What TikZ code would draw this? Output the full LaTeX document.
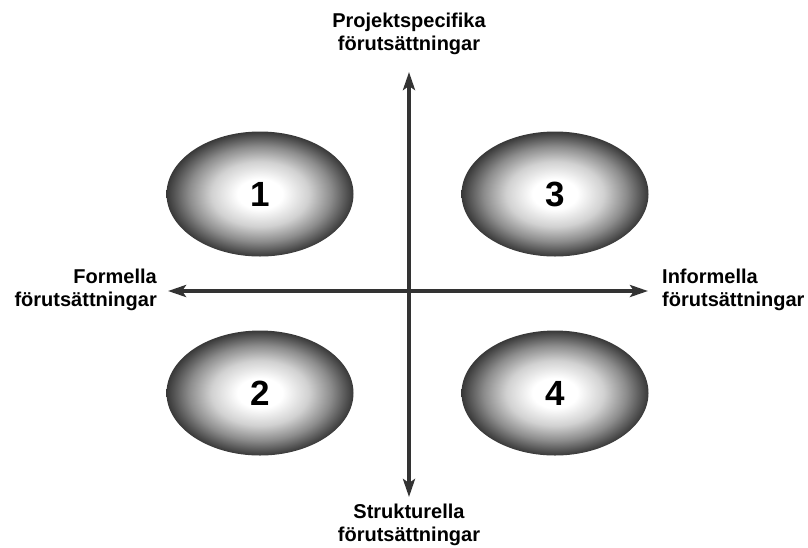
\documentclass[tikz,border=0pt]{standalone}
\usepackage{fontspec}
\setmainfont{Liberation Sans}
\usetikzlibrary{arrows.meta,shapes.geometric}
\pgfdeclareradialshading{blobshade}{\pgfpoint{0bp}{0bp}}{color(0bp)=(white);color(6bp)=(white);color(13bp)=(black!18);color(19bp)=(black!45);color(25bp)=(black!78);color(50bp)=(black!78)}
\definecolor{axiscol}{HTML}{333333}
\begin{document}
\begin{tikzpicture}[x=1pt,y=-1pt,
  blob/.style={ellipse,shading=blobshade,draw=none,minimum width=187pt,minimum height=125pt,inner sep=0pt,font=\fontsize{35}{40}\selectfont\bfseries},
  axis/.style={draw=axiscol,line width=3.5pt,{Stealth[length=18pt,width=12pt,inset=4pt]}-{Stealth[length=18pt,width=12pt,inset=4pt]}},
  lbl/.style={inner sep=0pt,font=\fontsize{20}{23}\selectfont\bfseries}]
\useasboundingbox (0,0) rectangle (808,547);
\node[blob] (b1) at (260,194) {1};
\node[blob] (b3) at (555,194) {3};
\node[blob] (b2) at (260,393) {2};
\node[blob] (b4) at (555,393) {4};
\coordinate (N) at (409,72);
\coordinate (S) at (409,497);
\coordinate (W) at (168,291);
\coordinate (E) at (648,291);
\draw[axis] (S) -- (N);
\draw[axis] (W) -- (E);
\node[lbl,align=center] (top) at (409,34) {Projektspecifika\\förutsättningar};
\node[lbl,align=center] (bot) at (409,525) {Strukturella\\förutsättningar};
\node[lbl,align=right,anchor=east] (left) at (157,290) {Formella\\förutsättningar};
\node[lbl,align=left,anchor=west] (right) at (662,290) {Informella\\förutsättningar};
\end{tikzpicture}
\end{document}
